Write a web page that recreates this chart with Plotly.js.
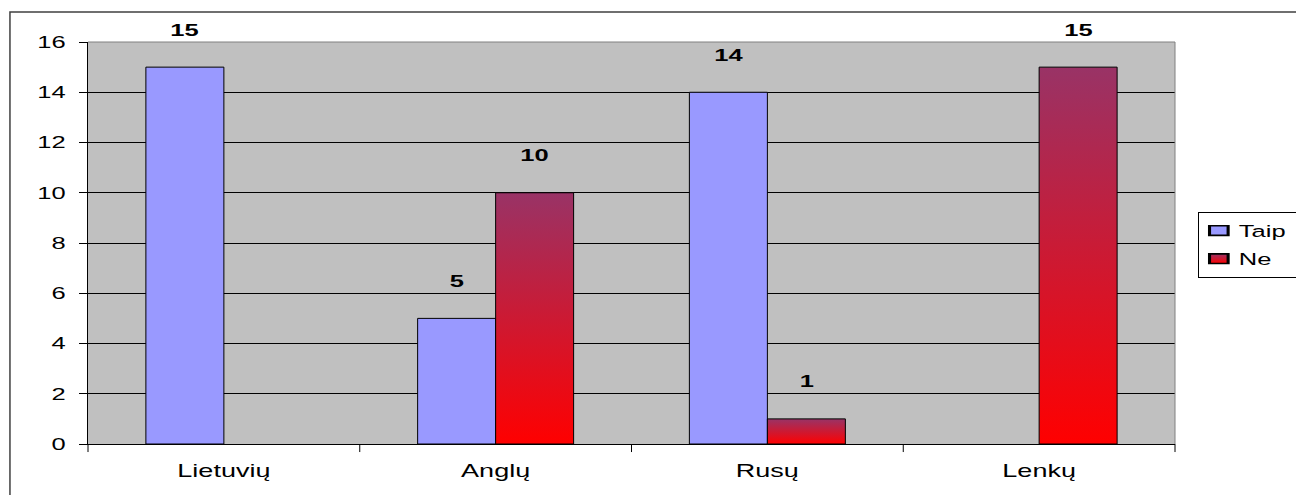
<!DOCTYPE html>
<html>
<head>
<meta charset="utf-8">
<script src="https://cdn.plot.ly/plotly-3.0.1.min.js"></script>
<style>
html,body{margin:0;padding:0;background:#fff;}
#chart{width:1296px;height:495px;}
</style>
</head>
<body>
<div id="chart"></div>
<script>
const categories = ["Lietuvių", "Anglų", "Rusų", "Lenkų"];
const taipValues = [15, 5, 14, 0];
const neValues = [0, 10, 1, 15];
const seriesNames = ["Taip", "Ne"];
const yTicks = [0, 2, 4, 6, 8, 10, 12, 14, 16];

const FONT = "Liberation Sans, Arial, sans-serif";
const STRETCH = 1.5;

const traces = [
  {
    type: "bar", name: seriesNames[0], x: categories, y: taipValues,
    legendgroup: "a",
    marker: {color: "#9999FF", line: {color: "#000000", width: taipValues.map(v => v === 0 ? 0 : 1)}},
    hoverinfo: "skip"
  },
  {
    type: "bar", name: seriesNames[1], x: categories, y: neValues,
    legendgroup: "b",
    marker: {color: "#CC2244", line: {color: "#000000", width: neValues.map(v => v === 0 ? 0 : 1)}},
    hoverinfo: "skip"
  }
];

const annotations = [];
[taipValues, neValues].forEach((vals, si) => {
  vals.forEach((v, i) => {
    if (v === 0) return;
    annotations.push({
      x: categories[i], y: v, xref: "x", yref: "y",
      text: "<b>" + v + "</b>", showarrow: false,
      xshift: si === 0 ? -39 : 39, yshift: 37,
      yanchor: "middle", xanchor: "center",
      font: {family: FONT, size: 17, color: "#000"}
    });
  });
});

const layout = {
  width: 1296, height: 495,
  margin: {l: 88, r: 121, t: 42, b: 51},
  paper_bgcolor: "#ffffff",
  plot_bgcolor: "#C0C0C0",
  barmode: "group",
  bargap: 0.426,
  bargroupgap: 0,
  font: {family: FONT, size: 17, color: "#000"},
  showlegend: true,
  legend: {
    x: 1.021, xanchor: "left", y: 0.495, yanchor: "middle",
    bgcolor: "#ffffff", bordercolor: "#000000", borderwidth: 1,
    font: {family: FONT, size: 17, color: "#000"},
    itemsizing: "constant", tracegroupgap: 3
  },
  xaxis: {
    type: "category", showgrid: false, showline: true, linecolor: "#000", linewidth: 1,
    ticks: "", tickfont: {family: FONT, size: 18}, ticklabelstandoff: 10, fixedrange: true
  },
  yaxis: {
    range: [0, 16], tickvals: yTicks, ticktext: yTicks.map(String),
    showgrid: true, gridcolor: "#000000", gridwidth: 1,
    showline: true, linecolor: "#000", linewidth: 1,
    ticks: "outside", ticklen: 8, tickcolor: "#000",
    tickfont: {family: FONT, size: 17}, ticklabelstandoff: 10, zeroline: false, fixedrange: true
  },
  annotations: annotations,
  shapes: [
    {type: "line", xref: "paper", yref: "paper", x0: 0, x1: 1, y0: 1, y1: 1, line: {color: "#808080", width: 1}},
    {type: "line", xref: "paper", yref: "paper", x0: 1, x1: 1, y0: 0, y1: 1, line: {color: "#808080", width: 1}},
    ...[0, 0.25, 0.5, 0.75, 1].map(p => ({type: "line", xref: "paper", yref: "paper", x0: p, x1: p, y0: 0, y1: -0.02, line: {color: "#000", width: 1}})),
    {type: "rect", xref: "paper", yref: "paper", x0: -0.0718, x1: 1.2, y0: -0.3, y1: 1.0746, line: {color: "#404040", width: 1.5}, layer: "below"}
  ]
};

function stretchText(el) {
  const x = parseFloat(el.getAttribute("x")) || 0;
  const y = parseFloat(el.getAttribute("y")) || 0;
  const t = el.getAttribute("transform") || "";
  el.setAttribute("transform", t + ` translate(${x},${y}) scale(${STRETCH},1) translate(${-x},${-y})`);
}

Plotly.newPlot("chart", traces, layout, {staticPlot: true}).then(gd => {
  const svg = gd.querySelector("svg.main-svg");
  const ns = "http://www.w3.org/2000/svg";
  let defs = svg.querySelector("defs");
  if (!defs) { defs = document.createElementNS(ns, "defs"); svg.insertBefore(defs, svg.firstChild); }
  const grad = document.createElementNS(ns, "linearGradient");
  grad.setAttribute("id", "neGrad");
  grad.setAttribute("x1", "0"); grad.setAttribute("y1", "0");
  grad.setAttribute("x2", "0"); grad.setAttribute("y2", "1");
  [["0", "#993366"], ["1", "#FF0000"]].forEach(([o, c]) => {
    const s = document.createElementNS(ns, "stop");
    s.setAttribute("offset", o); s.setAttribute("stop-color", c);
    grad.appendChild(s);
  });
  defs.appendChild(grad);
  const barTraces = gd.querySelectorAll(".barlayer .trace");
  if (barTraces[1]) barTraces[1].querySelectorAll("path").forEach(p => { p.style.fill = "url(#neGrad)"; });
  const legTraces = gd.querySelectorAll(".legend .traces");
  legTraces.forEach((tr, i) => {
    tr.querySelectorAll(".legendpoints path").forEach(p => {
      if (i === 1) p.style.fill = "url(#neGrad)";
      const t = p.getAttribute("transform") || "";
      p.setAttribute("transform", t + " scale(1.55,0.8)");
    });
  });
  gd.querySelectorAll(".xtick text, .ytick text, .annotation-text, .legendtext").forEach(stretchText);
  const leg = gd.querySelector(".legend");
  if (leg) {
    const bg = leg.querySelector("rect.bg");
    if (bg) { bg.setAttribute("width", "140"); bg.style.width = "140px"; }
    leg.querySelectorAll("[clip-path]").forEach(el => el.removeAttribute("clip-path"));
    leg.removeAttribute("clip-path");
  }
});
</script>
</body>
</html>
